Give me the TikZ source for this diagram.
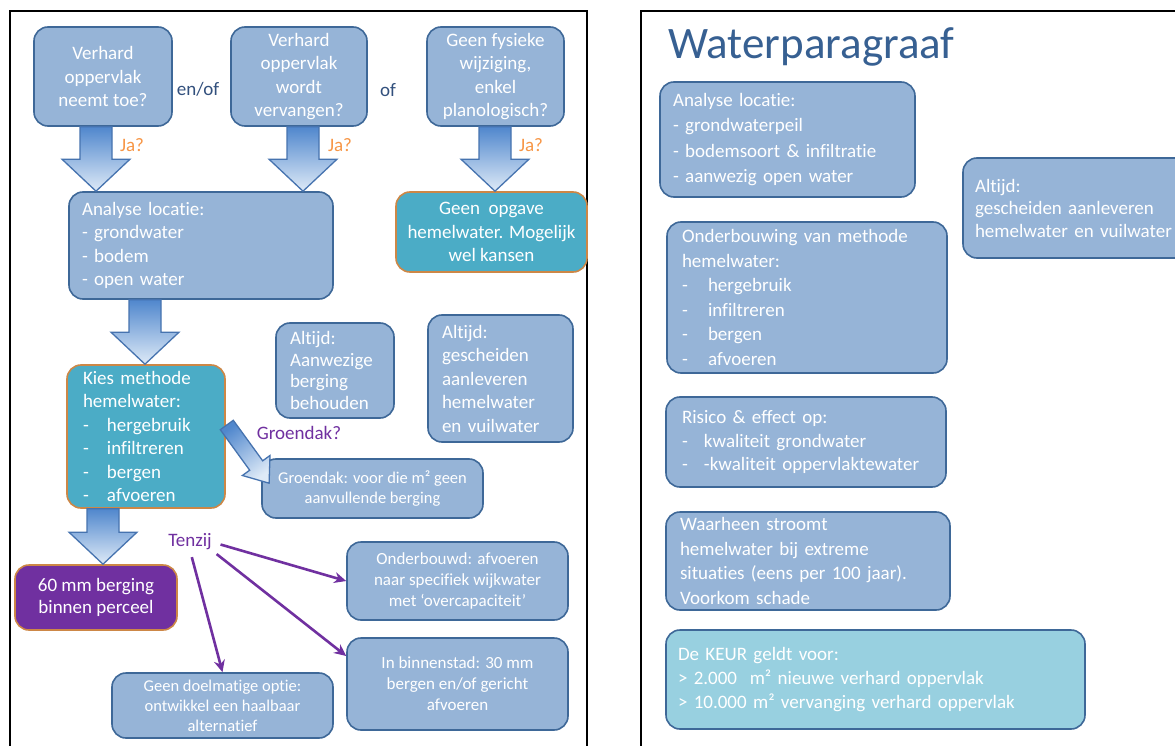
\documentclass[tikz,border=0pt]{standalone}
\usepackage{fontspec}
\setmainfont{Carlito}[Ligatures=NoCommon]
\usetikzlibrary{calc,arrows.meta}

\definecolor{vakblauw}{RGB}{150,180,215}
\definecolor{vakrand}{RGB}{62,104,152}
\definecolor{turkoois}{RGB}{75,172,198}
\definecolor{oranjerand}{RGB}{205,135,70}
\definecolor{paars}{RGB}{112,48,160}
\definecolor{ja}{RGB}{247,150,70}
\definecolor{tekstblauw}{RGB}{50,80,125}
\definecolor{titel}{RGB}{55,96,146}
\definecolor{keur}{RGB}{152,208,224}
\definecolor{pijlboven}{RGB}{80,135,205}
\definecolor{pijlonder}{RGB}{222,234,247}
\definecolor{pijlrand}{RGB}{70,115,175}

\newcommand{\streep}[1]{\makebox[#1][l]{-}}
% brede blokpijl van onderkant #2 naar bovenkant #3, op x = #1
\newcommand{\blokpijl}[3]{%
  \path (#2.south -| #1,0) coordinate (van) (#3.north -| #1,0) coordinate (naar);
  \path[blok] ($(van)+(-16,0)$) -- ($(naar)+(-16,-32)$) -- ($(naar)+(-34,-32)$) -- (naar)
    -- ($(naar)+(34,-32)$) -- ($(naar)+(16,-32)$) -- ($(van)+(16,0)$) -- cycle;}

\begin{document}
\begin{tikzpicture}[x=1pt,y=-1pt,
  every node/.style={inner sep=0pt, text=white},
  vak/.style={shape=rectangle, rounded corners=14pt, draw=vakrand, line width=1.6pt,
    fill=vakblauw},
  keuze/.style={vak, fill=turkoois, draw=oranjerand},
  f19/.style={font=\fontsize{19}{23.5}\selectfont},
  f17/.style={font=\fontsize{17}{21}\selectfont},
  f16/.style={font=\fontsize{16.5}{20}\selectfont},
  fr/.style={font=\fontsize{19}{24.5}\selectfont},
  blok/.style={draw=pijlrand, line width=1.3pt, top color=pijlboven, bottom color=pijlonder},
  paarspijl/.style={draw=paars, line width=2.6pt, -{Stealth[length=12pt,width=11pt]}},
  label/.style={f19}]
\clip (0,0) rectangle (1175,746);
\fill[white] (0,0) rectangle (1175,746);
% kaders
\draw[line width=2.5pt] (10,760) -- (10,11) -- (587,11) -- (587,760);
\draw[line width=2.5pt] (641,760) -- (641,11) -- (1190,11);

% linker paneel
\node[vak, f19, align=center, minimum width=138pt, minimum height=99pt] (q1) at (103,76.5)
  {Verhard\\oppervlak\\neemt toe?};
\node[vak, f19, align=center, minimum width=136pt, minimum height=99pt] (q2) at (299,76.5)
  {Verhard\\oppervlak\\wordt\\vervangen?};
\node[vak, f19, align=center, minimum width=137pt, minimum height=99pt] (q3) at (495.5,76.5)
  {Geen fysieke\\wijziging,\\enkel\\planologisch?};
\node[label, text=tekstblauw] (enof) at (198,89) {en/of};
\node[label, text=tekstblauw] (of) at (388,90) {of};
\node[f19, text=ja] (ja1) at (132,145) {Ja?};
\node[f19, text=ja] (ja2) at (340,145) {Ja?};
\node[f19, text=ja] (ja3) at (531,145) {Ja?};

\node[vak, f19, align=left, text width=238pt, minimum width=264pt, minimum height=107pt] (ana)
  at (201,245.5) {Analyse locatie:\\- grondwater\\- bodem\\- open water};
\node[keuze, f19, align=center, minimum width=191pt, minimum height=80pt] (geen) at (491.5,232)
  {Geen~ opgave\\hemelwater. Mogelijk\\wel kansen};
\node[keuze, f19, align=left, text width=126pt, minimum width=158pt, minimum height=143pt] (kies)
  at (146,436.5) {Kies methode\\hemelwater:\\\streep{24pt}hergebruik\\\streep{24pt}infiltreren\\
  \streep{24pt}bergen\\\streep{24pt}afvoeren};
\node[vak, f19, align=left, text width=90pt, minimum width=118pt, minimum height=95pt,
  font=\fontsize{19}{21.5}\selectfont] (alt1) at (335,370.5) {Altijd:\\Aanwezige\\berging\\behouden};
\node[vak, f19, align=left, text width=117pt, minimum width=145pt, minimum height=127pt] (alt2)
  at (500.5,378.5) {Altijd:\\gescheiden\\aanleveren\\hemelwater\\en vuilwater};
\node[label, text=paars] (groendak) at (299,433) {Groendak?};
\node[vak, f16, align=center, minimum width=221pt, minimum height=59pt] (gdak) at (372.5,488.5)
  {Groendak: voor die m² geen\\aanvullende berging};
\node[keuze, f19, fill=paars, align=center, minimum width=162pt, minimum height=65pt,
  font=\fontsize{19}{22}\selectfont] (mm60) at (96,597.5) {60 mm berging\\binnen perceel};
\node[label, text=paars] (tenzij) at (190,542) {Tenzij};
\node[vak, f17, align=center, minimum width=221pt, minimum height=78pt] (ond) at (457.5,581)
  {Onderbouwd: afvoeren\\naar specifiek wijkwater\\met ‘overcapaciteit’};
\node[vak, f17, align=center, minimum width=221pt, minimum height=92pt] (bin) at (457.5,684)
  {In binnenstad: 30 mm\\bergen en/of gericht\\afvoeren};
\node[vak, f16, align=center, minimum width=221pt, minimum height=65pt] (doel) at (222.5,705.5)
  {Geen doelmatige optie:\\ontwikkel een haalbaar\\alternatief};

% blokpijlen
\blokpijl{96}{q1}{ana}
\blokpijl{303}{q2}{ana}
\blokpijl{495}{q3}{geen}
\blokpijl{145}{ana}{kies}
\blokpijl{103}{kies}{mm60}
\coordinate (g0) at ($(kies.east)+(1,-11.5)$);
\path[blok, top color=pijlboven, bottom color=pijlonder, shading angle=36]
  ($(g0)+(-6.5,4.7)$) -- ($(g0)+(22.9,45.2)$) -- ($(g0)+(15.6,50.5)$) -- ($(g0)+(42.3,58.2)$)
  -- ($(g0)+(43.2,30.5)$) -- ($(g0)+(35.9,35.8)$) -- ($(g0)+(6.5,-4.7)$) -- cycle;

% tenzij
\draw[paarspijl, shorten <=9pt] (tenzij.east) -- (ond.west);
\draw[paarspijl, shorten <=6pt] (tenzij.south east) -- ([yshift=28pt]bin.west);
\draw[paarspijl, shorten <=7pt] (tenzij.south) -- (doel.north);

% rechter paneel
\node[anchor=base west, text=titel, font=\fontsize{45}{52}\selectfont] (kop) at (668,59)
  {Waterparagraaf};
\node[vak, fr, align=left, text width=229pt, minimum width=255pt, minimum height=115pt,
  font=\fontsize{19}{25.3}\selectfont] (r1) at (787.5,139.5)
  {Analyse locatie:\\- grondwaterpeil\\- bodemsoort \& infiltratie\\- aanwezig open water};
\node[vak, fr, align=left, text width=213pt, minimum width=237pt, minimum height=100pt,
  font=\fontsize{19}{22.5}\selectfont] (r2) at (1081.5,208)
  {Altijd:\\gescheiden aanleveren\\hemelwater en vuilwater};
\node[vak, fr, align=left, text width=250pt, minimum width=280pt, minimum height=151pt] (r3)
  at (807,297.5) {Onderbouwing van methode\\hemelwater:\\\streep{26pt}hergebruik\\
  \streep{26pt}infiltreren\\\streep{26pt}bergen\\\streep{26pt}afvoeren};
\node[vak, fr, align=left, text width=248pt, minimum width=280pt, minimum height=90pt,
  font=\fontsize{19}{23.5}\selectfont] (r4) at (806,442)
  {Risico \& effect op:\\\streep{22pt}kwaliteit grondwater\\\streep{22pt}-kwaliteit oppervlaktewater};
\node[vak, fr, align=left, text width=256pt, minimum width=284pt, minimum height=98pt] (r5)
  at (808,561) {Waarheen stroomt\\hemelwater bij extreme\\situaties (eens per 100 jaar).\\Voorkom schade};
\node[vak, fr, fill=keur, align=left, text width=395pt, minimum width=419pt, minimum height=99pt,
  font=\fontsize{19}{24}\selectfont] (r6) at (875.5,679.5)
  {De KEUR geldt voor:\\> 2.000~ m² nieuwe verhard oppervlak\\> 10.000 m² vervanging verhard oppervlak};
\end{tikzpicture}
\end{document}
